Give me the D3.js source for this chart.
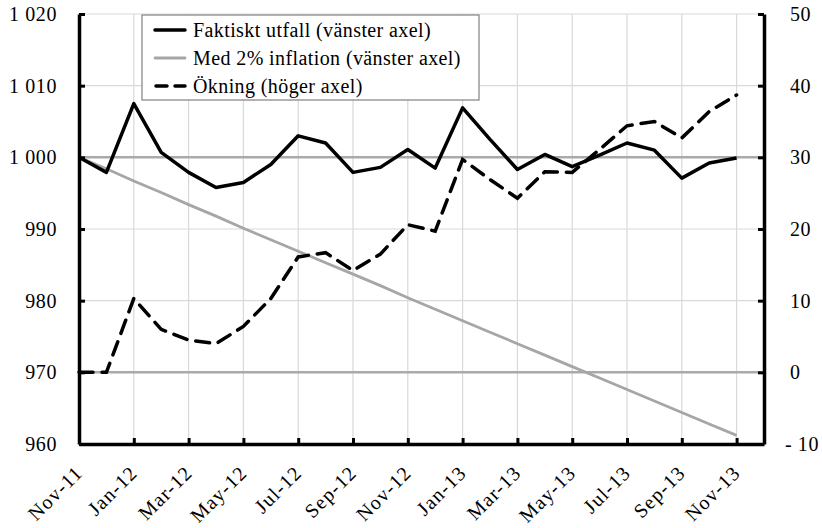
<!DOCTYPE html>
<html>
<head>
<meta charset="utf-8">
<script src="https://cdn.jsdelivr.net/npm/d3@7"></script>
<style>
  body { margin: 0; background: #fff; }
  svg text { font-family: "Liberation Serif", Tinos, "Times New Roman", "DejaVu Serif", serif !important; fill: #000; }
</style>
</head>
<body>
<svg width="822" height="528"></svg>
<script>
// month labels (Nov-11 .. Nov-13)
var months = ["Nov-11","Dec-11","Jan-12","Feb-12","Mar-12","Apr-12","May-12","Jun-12","Jul-12",
  "Aug-12","Sep-12","Oct-12","Nov-12","Dec-12","Jan-13","Feb-13","Mar-13","Apr-13","May-13",
  "Jun-13","Jul-13","Aug-13","Sep-13","Oct-13","Nov-13"];

// left axis series
var faktiskt = [1000, 997.9, 1007.5, 1000.7, 997.9, 995.8, 996.5, 999.0, 1003.0, 1002.0, 997.9, 998.6,
  1001.1, 998.5, 1006.9, 1002.5, 998.3, 1000.4, 998.7, 1000.3, 1002.0, 1001.0, 997.1, 999.2, 999.9];
var inflation = [1000, 998.4, 996.7, 995.1, 993.4, 991.8, 990.1, 988.5, 986.9, 985.3, 983.7, 982.1,
  980.4, 978.8, 977.2, 975.6, 974.0, 972.4, 970.8, 969.2, 967.6, 966.0, 964.4, 962.8, 961.2];
// right axis series
var okning = [0, 0, 10.3, 6.0, 4.5, 4.0, 6.4, 10.3, 16.1, 16.7, 14.2, 16.5, 20.6, 19.7, 29.7, 26.9,
  24.3, 28.0, 27.9, 31.1, 34.4, 35.0, 32.7, 36.4, 38.7];

var leftTicks = [960, 970, 980, 990, 1000, 1010, 1020];
var rightTicks = [-10, 0, 10, 20, 30, 40, 50];
var legendItems = ["Faktiskt utfall (vänster axel)", "Med 2% inflation (vänster axel)", "Ökning (höger axel)"];

var svg = d3.select("svg");
var pLeft = 79, pRight = 764, pTop = 14, pBottom = 444;
var serif = '"Liberation Serif", Tinos, "Times New Roman", "DejaVu Serif", serif';

var x = d3.scaleLinear().domain([0, months.length]).range([pLeft, pRight]);
var yL = d3.scaleLinear().domain([960, 1020]).range([pBottom, pTop]);
var yR = d3.scaleLinear().domain([-10, 50]).range([pBottom, pTop]);

var locale = d3.formatLocale({decimal: ",", thousands: " ", grouping: [3], currency: ["", ""]});
var fmtL = locale.format(",");
var fmtR = function(v) { return v < 0 ? "- " + Math.abs(v) : String(v); };

var evenIdx = d3.range(0, months.length, 2);

// gridlines
var grid = svg.append("g");
grid.selectAll("line.v")
  .data(evenIdx.slice(1))
  .enter().append("line")
  .attr("x1", function(d) { return x(d); })
  .attr("x2", function(d) { return x(d); })
  .attr("y1", pTop).attr("y2", pBottom)
  .attr("stroke", "#d9d9d9").attr("stroke-width", 1.2);
grid.selectAll("line.h")
  .data(leftTicks.slice(1))
  .enter().append("line")
  .attr("x1", pLeft).attr("x2", pRight)
  .attr("y1", function(d) { return yL(d); })
  .attr("y2", function(d) { return yL(d); })
  .attr("stroke", function(d) { return (d == 1000 || d == 970) ? "#aaaaaa" : "#d9d9d9"; })
  .attr("stroke-width", function(d) { return (d == 1000 || d == 970) ? 2.5 : 1.2; });

// lines
var lineL = d3.line().x(function(d, i) { return x(i); }).y(function(d) { return yL(d); });
var lineR = d3.line().x(function(d, i) { return x(i); }).y(function(d) { return yR(d); });

svg.append("path").datum(inflation)
  .attr("d", lineL).attr("fill", "none")
  .attr("stroke", "#a6a6a6").attr("stroke-width", 2.8);
svg.append("path").datum(okning)
  .attr("d", lineR).attr("fill", "none")
  .attr("stroke", "#000").attr("stroke-width", 3.5)
  .attr("stroke-dasharray", "14,9").attr("stroke-linecap", "round");
svg.append("path").datum(faktiskt)
  .attr("d", lineL).attr("fill", "none")
  .attr("stroke", "#000").attr("stroke-width", 3.5)
  .attr("stroke-linejoin", "round");

// axes
var axL = svg.append("g")
  .attr("transform", "translate(" + pLeft + ",0)")
  .call(d3.axisLeft(yL).tickValues(leftTicks).tickFormat(fmtL).tickSize(-6).tickSizeOuter(0).tickPadding(22));
var axR = svg.append("g")
  .attr("transform", "translate(" + pRight + ",0)")
  .call(d3.axisRight(yR).tickValues(rightTicks).tickFormat(fmtR).tickSize(-6).tickSizeOuter(0).tickPadding(26));
var axB = svg.append("g")
  .attr("transform", "translate(0," + pBottom + ")")
  .call(d3.axisBottom(x).tickValues(evenIdx).tickFormat("").tickSize(-6).tickSizeOuter(0));

[axL, axR, axB].forEach(function(a) {
  a.attr("font-family", serif).attr("font-size", 20);
  a.select(".domain").attr("stroke", "#000").attr("stroke-width", 3.5);
  a.selectAll(".tick line").attr("stroke", "#000").attr("stroke-width", 3);
  a.selectAll(".tick text").style("letter-spacing", "0.6px");
});
axB.select(".tick line").remove();
axR.selectAll(".tick text").attr("dx", function(d) { return d < 0 ? -5 : 0; });

// rotated month labels
svg.append("g").selectAll("text")
  .data(evenIdx)
  .enter().append("text")
  .attr("transform", function(d) { return "translate(" + (x(d) + 5) + "," + (pBottom + 30) + ") rotate(-45)"; })
  .attr("text-anchor", "end")
  .style("font-size", "20px")
  .style("letter-spacing", "1.2px")
  .text(function(d) { return months[d]; });

// legend
var lg = svg.append("g");
lg.append("rect")
  .attr("x", 142).attr("y", 15).attr("width", 337).attr("height", 85)
  .attr("fill", "#fff").attr("stroke", "#808080").attr("stroke-width", 1.2);
var items = lg.selectAll("g.item")
  .data(legendItems)
  .enter().append("g")
  .attr("transform", function(d, i) { return "translate(0," + (30 + i * 28) + ")"; });
items.append("line")
  .attr("x1", 155).attr("x2", 185).attr("y1", 0).attr("y2", 0)
  .attr("stroke", function(d, i) { return i == 1 ? "#a6a6a6" : "#000"; })
  .attr("stroke-width", function(d, i) { return i == 1 ? 2.8 : 3.5; })
  .attr("stroke-dasharray", function(d, i) { return i == 2 ? "11,8" : null; })
  .attr("stroke-dashoffset", function(d, i) { return i == 2 ? -1 : null; })
  .attr("stroke-linecap", "round");
items.append("text")
  .attr("x", 193).attr("y", 0).attr("dy", "0.35em")
  .style("font-size", "20px")
  .style("letter-spacing", "0.4px")
  .text(function(d) { return d; });
</script>
</body>
</html>
